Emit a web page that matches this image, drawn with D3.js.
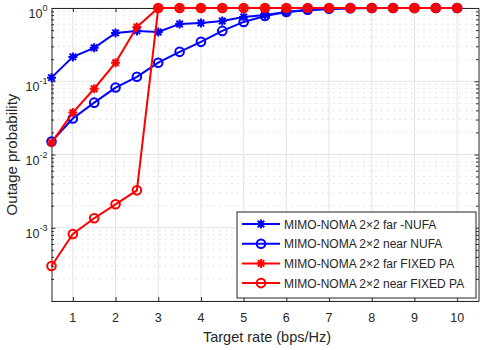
<!DOCTYPE html>
<html>
<head>
<meta charset="utf-8">
<script src="https://cdn.jsdelivr.net/npm/d3@7"></script>
<style>
  body { margin: 0; background: #fff; }
  svg text { font-family: "Liberation Sans", Arial, sans-serif; fill: #262626; }
  .axis path, .axis line { stroke: #262626; }
</style>
</head>
<body>
<div id="chart"></div>
<script>
// target rates (bps/Hz)
const rates = [0.5, 1, 1.5, 2, 2.5, 3, 3.5, 4, 4.5, 5, 5.5, 6, 6.5, 7, 7.5, 8, 8.5, 9, 9.5, 10];

// outage probability
const farNUFA   = [0.112, 0.215, 0.286, 0.457, 0.487, 0.471, 0.606, 0.625, 0.666, 0.755, 0.803, 0.88, 0.93, 0.97, 0.99, 1, 1, 1, 1, 1];
const nearNUFA  = [0.0150, 0.031, 0.051, 0.082, 0.115, 0.179, 0.252, 0.345, 0.487, 0.645, 0.778, 0.88, 0.95, 0.98, 0.995, 1, 1, 1, 1, 1];
const farFixed  = [0.0145, 0.0373, 0.079, 0.179, 0.55, 1, 1, 1, 1, 1, 1, 1, 1, 1, 1, 1, 1, 1, 1, 1];
const nearFixed = [0.00030, 0.00082, 0.00135, 0.00209, 0.00324, 1, 1, 1, 1, 1, 1, 1, 1, 1, 1, 1, 1, 1, 1, 1];

const xTicks = [1, 2, 3, 4, 5, 6, 7, 8, 9, 10];
const yTicks = [1e-4, 1e-3, 1e-2, 1e-1, 1];
// only these decades get a label in the original
const yLabelTicks = [1e-3, 1e-2, 1e-1, 1];
const yExp = ["-3", "-2", "-1", "0"];

const series = [
    {name: "MIMO-NOMA 2\u00d72 far -NUFA", values: farNUFA, color: "#0000ff", marker: "star"},
    {name: "MIMO-NOMA 2\u00d72 near NUFA", values: nearNUFA, color: "#0000ff", marker: "circle"},
    {name: "MIMO-NOMA 2\u00d72 far FIXED PA", values: farFixed, color: "#ff0000", marker: "star"},
    {name: "MIMO-NOMA 2\u00d72 near FIXED PA", values: nearFixed, color: "#ff0000", marker: "circle"}
];

const W = 480, H = 350;
const margin = {top: 8, right: 1.5, bottom: 49, left: 51.5};
const x0 = margin.left, x1 = W - margin.right;
const y0 = H - margin.bottom, y1 = margin.top;

const svg = d3.select("#chart").append("svg")
    .attr("width", W).attr("height", H);

const x = d3.scaleLinear().domain([0.5, 10.5]).range([x0, x1]);
const y = d3.scaleLog().domain([1e-4, 1]).range([y0, y1]);

// minor y values (2..9 per decade)
let minorY = [];
yTicks.slice(0, -1).forEach(d => {
    [2, 3, 4, 5, 6, 7, 8, 9].forEach(m => minorY.push(d * m));
});

// grid
const grid = svg.append("g");
grid.selectAll(".minor").data(minorY).enter().append("line")
    .attr("x1", x0).attr("x2", x1)
    .attr("y1", d => y(d)).attr("y2", d => y(d))
    .attr("stroke", "#c8c8c8").attr("stroke-width", 1)
    .attr("stroke-dasharray", "1,5");
grid.selectAll(".hmajor").data(yTicks).enter().append("line")
    .attr("x1", x0).attr("x2", x1)
    .attr("y1", d => y(d)).attr("y2", d => y(d))
    .attr("stroke", "#e3e3e3").attr("stroke-width", 1);
grid.selectAll(".vmajor").data(xTicks).enter().append("line")
    .attr("x1", d => x(d)).attr("x2", d => x(d))
    .attr("y1", y0).attr("y2", y1)
    .attr("stroke", "#e3e3e3").attr("stroke-width", 1);

// axes (ticks pointing inwards, box style)
svg.append("g").attr("class", "axis")
    .attr("transform", `translate(0,${y0})`)
    .call(d3.axisBottom(x).tickValues(xTicks).tickSize(-4).tickSizeOuter(0).tickFormat(""));
svg.append("g").attr("class", "axis")
    .attr("transform", `translate(0,${y1})`)
    .call(d3.axisTop(x).tickValues(xTicks).tickSize(-4).tickSizeOuter(0).tickFormat(""));
svg.append("g").attr("class", "axis")
    .attr("transform", `translate(${x0},0)`)
    .call(d3.axisLeft(y).tickValues(yTicks).tickSize(-4).tickSizeOuter(0).tickFormat(""));
svg.append("g").attr("class", "axis")
    .attr("transform", `translate(${x1},0)`)
    .call(d3.axisRight(y).tickValues(yTicks).tickSize(-4).tickSizeOuter(0).tickFormat(""));
svg.append("g").attr("class", "axis")
    .attr("transform", `translate(${x0},0)`)
    .call(d3.axisLeft(y).tickValues(minorY).tickSize(-2.5).tickSizeOuter(0).tickFormat(""))
    .select(".domain").remove();
svg.append("g").attr("class", "axis")
    .attr("transform", `translate(${x1},0)`)
    .call(d3.axisRight(y).tickValues(minorY).tickSize(-2.5).tickSizeOuter(0).tickFormat(""))
    .select(".domain").remove();

// tick labels
svg.selectAll(".xlab").data(xTicks).enter().append("text")
    .attr("x", d => x(d)).attr("y", y0 + 21)
    .attr("text-anchor", "middle").style("font-size", "12.5px")
    .text(d => d);

yLabelTicks.forEach((d, i) => {
    const t = svg.append("text")
        .attr("x", x0 - 4).attr("y", y(d) + 10)
        .attr("text-anchor", "end").style("font-size", "12.5px");
    t.append("tspan").text("10");
    t.append("tspan").attr("dy", -7).style("font-size", "9px").text(yExp[i]);
});

// axis titles
svg.append("text")
    .attr("x", (x0 + x1) / 2 + 2).attr("y", 342)
    .attr("text-anchor", "middle").style("font-size", "14.5px")
    .text("Target rate (bps/Hz)");
svg.append("text")
    .attr("transform", `translate(17,${(y0 + y1) / 2}) rotate(-90)`)
    .attr("text-anchor", "middle").style("font-size", "15px")
    .text("Outage probability");

// markers
const starPath = r => {
    const d = r * 0.72;
    return `M${-r},0L${r},0M0,${-r}L0,${r}M${-d},${-d}L${d},${d}M${-d},${d}L${d},${-d}`;
};
function drawMarker(g, kind, color) {
    if (kind === "star") {
        g.append("path").attr("d", starPath(4.5))
            .attr("stroke", color).attr("stroke-width", 2).attr("fill", "none");
    } else {
        g.append("circle").attr("r", 4.3)
            .attr("stroke", color).attr("stroke-width", 2).attr("fill", "none");
    }
}

const line = d3.line().x(d => x(d.r)).y(d => y(d.v));
const plot = svg.append("g");

series.forEach(s => {
    const pts = rates.map((r, i) => ({r: r, v: s.values[i]}));
    plot.append("path").datum(pts)
        .attr("d", line)
        .attr("fill", "none").attr("stroke", s.color).attr("stroke-width", 2);
    pts.forEach(p => {
        const g = plot.append("g").attr("transform", `translate(${x(p.r)},${y(p.v)})`);
        drawMarker(g, s.marker, s.color);
    });
});

// legend
const lg = svg.append("g").attr("transform", "translate(237,212)");
lg.append("rect").attr("width", 239).attr("height", 86)
    .attr("fill", "#fff").attr("stroke", "#262626").attr("stroke-width", 1);
series.forEach((s, i) => {
    const ry = 12 + i * 19.7;
    lg.append("line").attr("x1", 5).attr("x2", 43).attr("y1", ry).attr("y2", ry)
        .attr("stroke", s.color).attr("stroke-width", 2);
    const g = lg.append("g").attr("transform", `translate(24,${ry})`);
    drawMarker(g, s.marker, s.color);
    lg.append("text").attr("x", 47).attr("y", ry + 4.5)
        .style("font-size", "12px").text(s.name);
});
</script>
</body>
</html>
